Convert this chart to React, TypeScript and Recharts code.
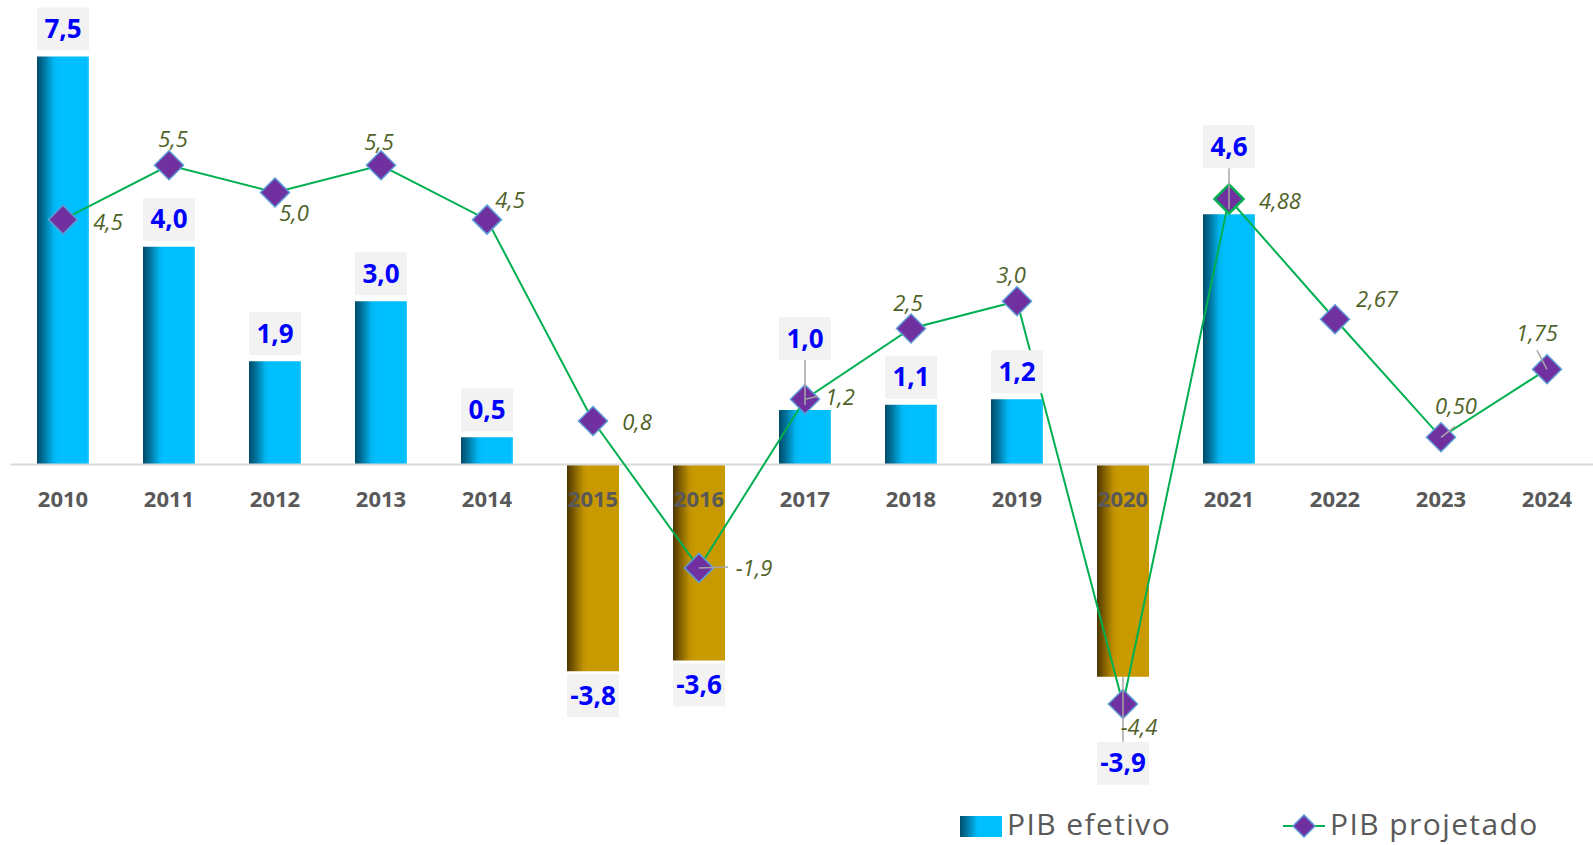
import React from 'react';
import {
  ComposedChart,
  Bar,
  Line,
  XAxis,
  YAxis,
  ReferenceLine,
  LabelList,
  Cell,
} from 'recharts';

// Data
const years = ['2010', '2011', '2012', '2013', '2014', '2015', '2016', '2017', '2018', '2019', '2020', '2021', '2022', '2023', '2024'];
const pibEfetivo: (number | null)[] = [7.5, 4.0, 1.9, 3.0, 0.5, -3.8, -3.6, 1.0, 1.1, 1.2, -3.9, 4.6, null, null, null];
const pibProjetado = [4.5, 5.5, 5.0, 5.5, 4.5, 0.8, -1.9, 1.2, 2.5, 3.0, -4.4, 4.88, 2.67, 0.5, 1.75];
const projetadoDecimals = [1, 1, 1, 1, 1, 1, 1, 1, 1, 1, 1, 2, 2, 2, 2];

// Label nudges (px), kept apart from the data
const lineLabelOffset: [number, number][] = [
  [45, 2], [4, -26], [19, 21], [-2, -23], [23, -20], [44, 1], [55, 0], [35, -2],
  [-3, -25], [-6, -26], [16, 23], [51, 2], [42, -20], [15, -31], [-10, -36],
];
const lineLeader: ([number, number] | null)[] = [
  null, null, null, null, null, null, [29, -1], [13, -3],
  null, null, null, null, null, [14, -11], [-10, -19],
];
const barLabelLift = [0, 0, 0, 0, 0, 0, 0, 44, 0, 0, 62, 40, 0, 0, 0];

const data = years.map((year, i) => ({
  year,
  efetivo: pibEfetivo[i],
  projetado: pibProjetado[i],
}));

const W = 1600;
const H = 845;
const MARGIN = { top: 2, right: 0, bottom: 0, left: 10 };
const XAXIS_H = 54;
const Y_MIN = -6;
const Y_MAX = 8.5;
const PLOT_H = H - MARGIN.top - MARGIN.bottom - XAXIS_H;
const ZERO_Y = MARGIN.top + (PLOT_H * Y_MAX) / (Y_MAX - Y_MIN);

const FONT = '"Open Sans", "Noto Sans", sans-serif';
const fmt = (v: number, d: number) => v.toFixed(d).replace('.', ',');

const YearTick = ({ x, payload }: any) => (
  <text
    x={x}
    y={ZERO_Y + 42}
    textAnchor="middle"
    fill="#595959"
    fontSize={22}
    fontWeight={700}
    fontFamily={FONT}
  >
    {payload.value}
  </text>
);

const BarValueLabel = ({ x, y, width, height, value, index }: any) => {
  if (value == null) return null;
  const top = Math.min(y, y + height);
  const bottom = Math.max(y, y + height);
  const cx = x + width / 2;
  const lift = barLabelLift[index] || 0;
  const boxW = 52;
  const boxH = 43;
  let boxTop: number;
  let leader: [number, number] | null = null;
  if (value >= 0) {
    boxTop = top - 6 - lift - boxH;
    if (lift) leader = [boxTop + boxH, top - 5];
  } else {
    boxTop = bottom + 3 + lift;
    if (lift) leader = [bottom, boxTop];
  }
  return (
    <g>
      {leader && (
        <line x1={cx} x2={cx} y1={leader[0]} y2={leader[1]} stroke="#A6A6A6" strokeWidth={1.5} />
      )}
      <rect x={cx - boxW / 2} y={boxTop} width={boxW} height={boxH} fill="#F2F2F2" />
      <text
        x={cx}
        y={boxTop + boxH / 2 + 9}
        textAnchor="middle"
        fill="#0000FF"
        fontSize={26}
        fontWeight={700}
        fontFamily={FONT}
      >
        {fmt(value, 1)}
      </text>
    </g>
  );
};

const LineValueLabel = ({ x, y, value, index }: any) => {
  const [dx, dy] = lineLabelOffset[index];
  const leader = lineLeader[index];
  return (
    <g>
      {leader && (
        <line x1={x} y1={y} x2={x + leader[0]} y2={y + leader[1]} stroke="#A6A6A6" strokeWidth={1.5} />
      )}
      <text
        x={x + dx}
        y={y + dy + 8}
        textAnchor="middle"
        fill="#4F6228"
        fontSize={22}
        fontStyle="italic"
        fontFamily={FONT}
      >
        {fmt(value, projetadoDecimals[index])}
      </text>
    </g>
  );
};

const Diamond = ({ cx, cy, index }: any) => {
  if (cx == null || cy == null) return null;
  const r = 14.5;
  return (
    <path
      key={`d-${index}`}
      d={`M${cx},${cy - r}L${cx + r},${cy}L${cx},${cy + r}L${cx - r},${cy}Z`}
      fill="#7030A0"
      stroke={index === 11 ? '#00B050' : '#5B9BD5'}
      strokeWidth={index === 11 ? 2.5 : 1.5}
    />
  );
};

const Legend = () => (
  <div
    style={{
      position: 'absolute',
      left: 960,
      top: 807,
      display: 'flex',
      alignItems: 'center',
      fontFamily: FONT,
      fontSize: 30,
      letterSpacing: 1.4,
      color: '#595959',
      lineHeight: '34px',
    }}
  >
    <div
      style={{
        width: 42,
        height: 21,
        background: 'linear-gradient(to right, #004E6C 0%, #00709A 14%, #00BFFF 42%, #00BFFF 100%)',
        marginRight: 5,
        marginTop: 4,
      }}
    />
    <span style={{ marginRight: 112 }}>PIB efetivo</span>
    <svg width={42} height={30} style={{ marginRight: 5, marginTop: 4 }}>
      <line x1={0} y1={15} x2={42} y2={15} stroke="#00B050" strokeWidth={2} />
      <path d="M21,4L32,15L21,26L10,15Z" fill="#7030A0" stroke="#5B9BD5" strokeWidth={1.5} />
    </svg>
    <span>PIB projetado</span>
  </div>
);

export default function App() {
  return (
    <div
      style={{
        position: 'absolute',
        left: 0,
        top: 0,
        width: 1593,
        height: 845,
        overflow: 'hidden',
        background: '#fff',
      }}
    >
      <ComposedChart width={W} height={H} data={data} margin={MARGIN}>
        <defs>
          <linearGradient id="gradPos" x1="0" y1="0" x2="1" y2="0">
            <stop offset="0%" stopColor="#004B68" />
            <stop offset="12%" stopColor="#006E96" />
            <stop offset="32%" stopColor="#00B6F2" />
            <stop offset="42%" stopColor="#00BFFF" />
            <stop offset="96%" stopColor="#00BFFF" />
            <stop offset="100%" stopColor="#38CCFF" />
          </linearGradient>
          <linearGradient id="gradNeg" x1="0" y1="0" x2="1" y2="0">
            <stop offset="0%" stopColor="#4A3500" />
            <stop offset="12%" stopColor="#7A5A00" />
            <stop offset="32%" stopColor="#C09200" />
            <stop offset="42%" stopColor="#C99A00" />
            <stop offset="100%" stopColor="#C99A00" />
          </linearGradient>
        </defs>
        <YAxis hide domain={[Y_MIN, Y_MAX]} />
        <ReferenceLine y={0} stroke="#D9D9D9" strokeWidth={2} />
        <Bar dataKey="efetivo" barSize={52} isAnimationActive={false}>
          {data.map((d, i) => (
            <Cell key={i} fill={(d.efetivo ?? 0) >= 0 ? 'url(#gradPos)' : 'url(#gradNeg)'} />
          ))}
          <LabelList dataKey="efetivo" content={<BarValueLabel />} />
        </Bar>
        <XAxis
          dataKey="year"
          height={XAXIS_H}
          axisLine={false}
          tickLine={false}
          interval={0}
          tick={<YearTick />}
        />
        <Line
          dataKey="projetado"
          stroke="#00B050"
          strokeWidth={2}
          dot={(p: any) => <Diamond key={`dot-${p.index}`} {...p} />}
          activeDot={false}
          isAnimationActive={false}
        >
          <LabelList dataKey="projetado" content={<LineValueLabel />} />
        </Line>
      </ComposedChart>
      <Legend />
    </div>
  );
}
